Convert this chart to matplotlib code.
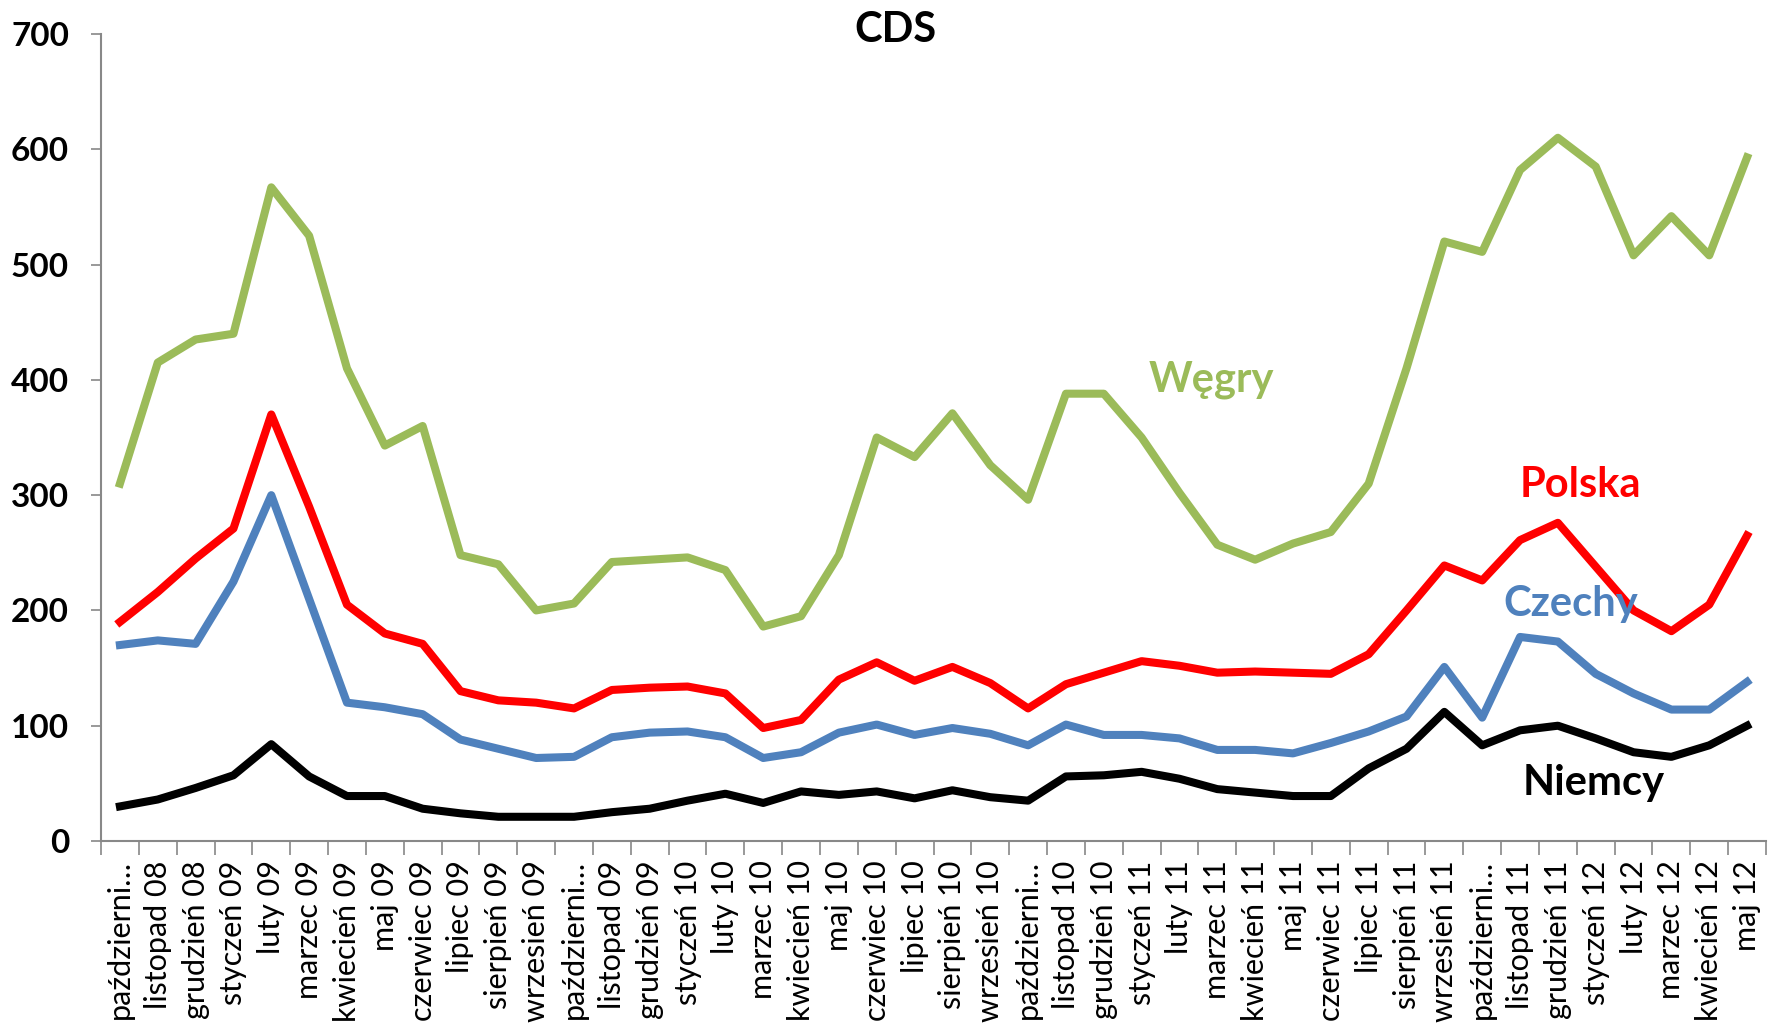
import matplotlib
matplotlib.use("Agg")
import matplotlib.pyplot as plt
import numpy as np

months = [
    "październi…", "listopad 08", "grudzień 08", "styczeń 09", "luty 09", "marzec 09",
    "kwiecień 09", "maj 09", "czerwiec 09", "lipiec 09", "sierpień 09", "wrzesień 09",
    "październi…", "listopad 09", "grudzień 09", "styczeń 10", "luty 10", "marzec 10",
    "kwiecień 10", "maj 10", "czerwiec 10", "lipiec 10", "sierpień 10", "wrzesień 10",
    "październi…", "listopad 10", "grudzień 10", "styczeń 11", "luty 11", "marzec 11",
    "kwiecień 11", "maj 11", "czerwiec 11", "lipiec 11", "sierpień 11", "wrzesień 11",
    "październi…", "listopad 11", "grudzień 11", "styczeń 12", "luty 12", "marzec 12",
    "kwiecień 12", "maj 12",
]

wegry = [310, 415, 435, 440, 567, 525, 410, 343, 360, 248, 240, 200,
         206, 242, 244, 246, 235, 186, 195, 248, 350, 333, 371, 326,
         296, 388, 388, 350, 302, 257, 244, 258, 268, 310, 410, 520,
         511, 582, 610, 585, 508, 542, 508, 593]

polska = [190, 216, 245, 271, 370, 290, 205, 180, 171, 130, 122, 120,
          115, 131, 133, 134, 128, 98, 105, 140, 155, 139, 151, 137,
          115, 136, 146, 156, 152, 146, 147, 146, 145, 162, 200, 239,
          226, 261, 276, 238, 200, 182, 205, 265]

czechy = [170, 174, 171, 225, 300, 210, 120, 116, 110, 88, 80, 72,
          73, 90, 94, 95, 90, 72, 77, 94, 101, 92, 98, 93,
          83, 101, 92, 92, 89, 79, 79, 76, 85, 95, 108, 151,
          107, 177, 173, 145, 128, 114, 114, 138]

niemcy = [30, 36, 46, 57, 84, 56, 39, 39, 28, 24, 21, 21,
          21, 25, 28, 35, 41, 33, 43, 40, 43, 37, 44, 38,
          35, 56, 57, 60, 54, 45, 42, 39, 39, 63, 80, 112,
          83, 96, 100, 89, 77, 73, 83, 100]

y_ticks = [0, 100, 200, 300, 400, 500, 600, 700]

W, H = 1769, 1035
fig = plt.figure(figsize=(W / 100, H / 100), dpi=100)
left, right = 101 / W, 1766 / W
top, bottom = 1 - 34 / H, 1 - 841 / H
ax = fig.add_axes([left, bottom, right - left, top - bottom])

x = np.arange(len(months))
green, red, blue = "#9BBB59", "#FF0000", "#4F81BD"
lw = 5.8
ax.plot(x, wegry, color=green, lw=lw, solid_joinstyle="round")
ax.plot(x, polska, color=red, lw=lw, solid_joinstyle="round")
ax.plot(x, czechy, color=blue, lw=lw, solid_joinstyle="round")
ax.plot(x, niemcy, color="black", lw=lw, solid_joinstyle="round")

ax.set_xlim(-0.5, len(months) - 0.5)
ax.set_ylim(0, 700)

ax.set_yticks(y_ticks)
ax.set_yticklabels([str(v) for v in y_ticks], fontfamily="Lato",
                   fontweight="bold", fontsize=24)
ax.tick_params(axis="y", length=7, width=1.2, color="#888888", pad=16)

ax.set_xticks(x)
ax.set_xticklabels(months, rotation=90, fontfamily="Lato",
                   fontsize=22, va="top", ha="center")
ax.tick_params(axis="x", which="major", length=0, pad=14)
ax.set_xticks(np.arange(-0.5, len(months), 1.0), minor=True)
ax.tick_params(axis="x", which="minor", length=10, width=1.2, color="#888888")

for side in ("top", "right"):
    ax.spines[side].set_visible(False)
for side in ("left", "bottom"):
    ax.spines[side].set_color("#888888")
    ax.spines[side].set_linewidth(1.5)

fig.text(895 / W, 1 - 30 / H, "CDS", ha="center", va="center",
         fontfamily="Lato", fontweight="bold", fontsize=30)

lab = dict(fontfamily="Lato", fontweight="bold", fontsize=30, ha="center", va="center")
ax.text(28.85, 400, "Węgry", color=green, **lab)
ax.text(38.6, 309, "Polska", color=red, **lab)
ax.text(38.35, 206, "Czechy", color=blue, **lab)
ax.text(38.95, 50, "Niemcy", color="black", **lab)

fig.savefig("out.png", dpi=100, facecolor="white")
